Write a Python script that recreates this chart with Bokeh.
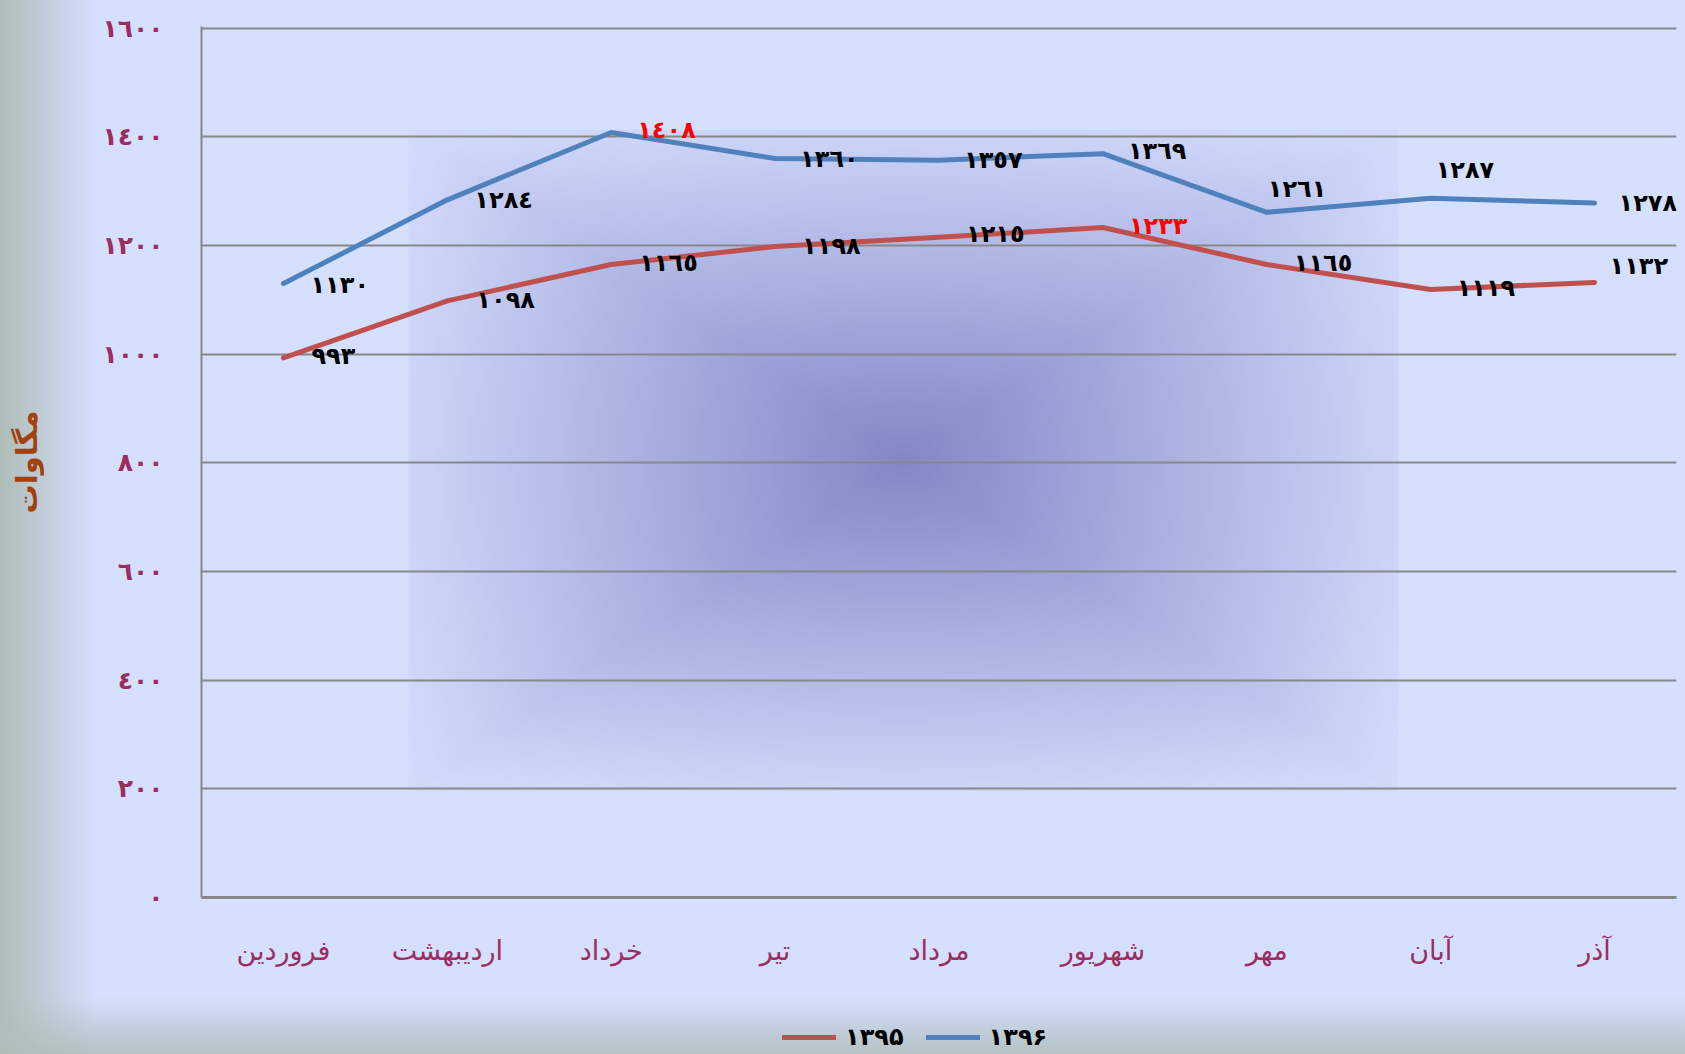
import numpy as np
from bokeh.plotting import figure
from bokeh.layouts import column
from bokeh.models import FactorRange, Range1d, FixedTicker, Legend, LegendItem, ColumnDataSource
from bokeh.core.properties import value
from bokeh.embed import file_html
from bokeh.resources import INLINE

# ---------------- data ----------------
months = ["فروردین", "اردیبهشت", "خرداد", "تیر", "مرداد", "شهریور", "مهر", "آبان", "آذر"]
values_1395 = [993, 1098, 1165, 1198, 1215, 1233, 1165, 1119, 1132]
values_1396 = [1130, 1284, 1408, 1360, 1357, 1369, 1261, 1287, 1278]
series_names = ["۱۳۹۵", "۱۳۹۶"]
y_ticks = [0, 200, 400, 600, 800, 1000, 1200, 1400, 1600]
y_title = "مگاوات"

# ---------------- label placement (screen px) ----------------
off_x_1395 = [28, 29, 28, 27, 27, 26, 27, 26, 15]
off_y_1395 = [-2, -1, -1, -1, -3, -2, -1, -1, -16]
off_x_1396 = [27, 27, 26, 25, 25, 25, 1, 5, 24]
off_y_1396 = [1, 0, -2, 0, 0, -3, -23, -28, 0]

ARABIC_DIGITS = "٠١٢٣٤٥٦٧٨٩"


def to_arabic(n):
    return "".join(ARABIC_DIGITS[int(c)] for c in str(n))


RED = "#C0504D"
BLUE = "#4F81BD"
MAROON = "#9C2E5F"
GRID = "#878787"
FONT = "DejaVu Sans"
LAV = "#D5DFFE"
LEFT_BAND = "linear-gradient(to right, #AEBDB8 0px, rgba(213,223,254,0) 96px)"

p = figure(
    width=1685, height=990,
    x_range=FactorRange(factors=months, range_padding=0),
    y_range=Range1d(0, 1603),
    output_backend="svg", toolbar_location=None,
    min_border_left=201, min_border_right=9, min_border_top=26, min_border_bottom=93,
    styles={"background": LEFT_BAND + ", " + LAV},
)
p.background_fill_color = None
p.border_fill_color = None
p.outline_line_color = None

# central shaded panel (decoration)
nx, ny = 240, 240
U, V = np.meshgrid(np.linspace(-1, 1, nx), np.linspace(-1, 1, ny))
t = 0.7 * np.maximum(np.abs(U), np.abs(V)) + 0.3 * np.minimum(1.0, np.hypot(U, V) / np.sqrt(2))
center_c = np.array([132, 135, 197])
edge_c = np.array([211, 220, 253])
img = np.empty((ny, nx), dtype=np.uint32)
view = img.view(dtype=np.uint8).reshape((ny, nx, 4))
for k in range(3):
    view[:, :, k] = (center_c[k] + (edge_c[k] - center_c[k]) * t).astype(np.uint8)
view[:, :, 3] = 255
p.image_rgba(image=[img], x=1.263, y=196, dw=6.04, dh=1217, level="image")

# grid
p.xgrid.grid_line_color = None
p.ygrid.grid_line_color = GRID
p.ygrid.grid_line_width = 2
p.yaxis.ticker = FixedTicker(ticks=y_ticks)
p.ygrid.ticker = FixedTicker(ticks=y_ticks)

# axes
p.yaxis.major_label_overrides = {v: to_arabic(v) for v in y_ticks}
p.yaxis.major_label_text_font = FONT
p.yaxis.major_label_text_font_style = "bold"
p.yaxis.major_label_text_font_size = "25px"
p.yaxis.major_label_text_color = MAROON
p.yaxis.major_tick_line_color = None
p.yaxis.minor_tick_line_color = None
p.yaxis.major_tick_out = 0
p.yaxis.major_label_standoff = 38
p.yaxis.axis_line_color = GRID
p.yaxis.axis_line_width = 2
p.yaxis.axis_label = y_title
p.yaxis.axis_label_text_font = FONT
p.yaxis.axis_label_text_font_style = "bold"
p.yaxis.axis_label_text_font_size = "29px"
p.yaxis.axis_label_text_color = "#A3400C"
p.yaxis.axis_label_standoff = 55

p.xaxis.major_label_text_font = FONT
p.xaxis.major_label_text_font_size = "27px"
p.xaxis.major_label_text_color = MAROON
p.xaxis.major_tick_line_color = None
p.xaxis.major_tick_out = 0
p.xaxis.major_label_standoff = 37
p.xaxis.axis_line_color = GRID
p.xaxis.axis_line_width = 3

# series
src95 = ColumnDataSource(dict(
    x=months, y=values_1395, label=[to_arabic(v) for v in values_1395],
    color=["red" if v == max(values_1395) else "black" for v in values_1395],
    dx=off_x_1395, dy=off_y_1395))
src96 = ColumnDataSource(dict(
    x=months, y=values_1396, label=[to_arabic(v) for v in values_1396],
    color=["red" if v == max(values_1396) else "black" for v in values_1396],
    dx=off_x_1396, dy=off_y_1396))

p.line("x", "y", source=src95, line_color=RED, line_width=5, line_cap="round", line_join="round")
p.line("x", "y", source=src96, line_color=BLUE, line_width=5, line_cap="round", line_join="round")

for src in (src95, src96):
    p.text("x", "y", text="label", source=src, x_offset="dx", y_offset="dy",
           text_color="color", text_font=value(FONT), text_font_style="bold",
           text_font_size="24px", text_align="left", text_baseline="middle")

# ---------------- legend strip (frame aligned with the chart above) ----------------
pl = figure(
    width=1685, height=64, output_backend="svg", toolbar_location=None,
    x_axis_location=None, y_axis_location=None, min_border=0,
    x_range=Range1d(0, 1), y_range=Range1d(0, 1),
    styles={"background": LEFT_BAND + ", linear-gradient(to top, #B3C2C4 0px, rgba(213,223,254,0) 57px), " + LAV},
)
pl.background_fill_color = None
pl.border_fill_color = None
pl.outline_line_color = None
pl.xgrid.grid_line_color = None
pl.ygrid.grid_line_color = None
# single-point lines: nothing visible is drawn, they only carry the legend styles
l95 = pl.line(x=[0], y=[0], line_color=RED, line_width=5, line_cap="round")
l96 = pl.line(x=[0], y=[0], line_color=BLUE, line_width=5, line_cap="round")

legend = Legend(
    items=[LegendItem(label=series_names[0], renderers=[l95]),
           LegendItem(label=series_names[1], renderers=[l96])],
    orientation="horizontal", location=(581, 3),
    background_fill_alpha=0, border_line_color=None,
    glyph_width=54, glyph_height=20, label_standoff=9, spacing=22,
    padding=0, margin=0,
    label_text_font=FONT, label_text_font_style="bold", label_text_font_size="24px",
    label_text_color="black",
)
pl.add_layout(legend, "center")

layout = column(p, pl, spacing=0)
open("out.html", "w").write(file_html(layout, INLINE))
